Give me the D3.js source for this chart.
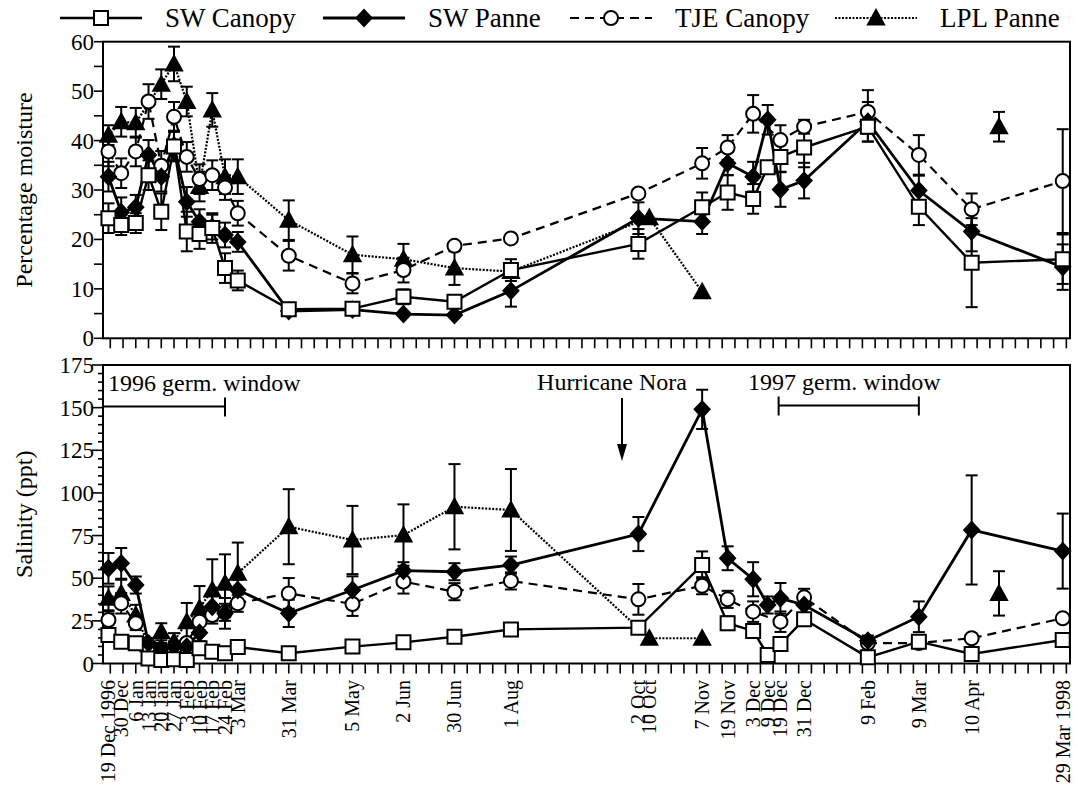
<!DOCTYPE html>
<html>
<head>
<meta charset="utf-8">
<title>Moisture and salinity, 1996-1998</title>
<script src="https://d3js.org/d3.v7.min.js"></script>
<style>
  body { margin: 0; background: #fff; }
  svg { font-family: "Liberation Serif", "Times New Roman", serif; }
</style>
</head>
<body>
<div id="chart"></div>
<script>
// sampling dates (placed as they sit on the weekly axis) and the printed labels
var sampleDates = ["1996-12-22","1996-12-29","1997-01-06","1997-01-13","1997-01-20","1997-01-27",
  "1997-02-03","1997-02-10","1997-02-17","1997-02-24","1997-03-03","1997-03-31","1997-05-05",
  "1997-06-02","1997-06-30","1997-07-31","1997-10-09","1997-10-15","1997-11-13","1997-11-27",
  "1997-12-11","1997-12-19","1997-12-26","1998-01-08","1998-02-12","1998-03-12","1998-04-10",
  "1998-04-25","1998-05-30"];
var tickLabels = ["19 Dec 1996","30 Dec","6 Jan","13 Jan","20 Jan","27 Jan","3 Feb","10 Feb","17 Feb",
  "24 Feb","3 Mar","31 Mar","5 May","2 Jun","30 Jun","1 Aug","2 Oct","10 Oct","7 Nov","19 Nov",
  "3 Dec","9 Dec","19 Dec","31 Dec","9 Feb","9 Mar","10 Apr","","29 Mar 1998"];

var seriesNames = ["SW Canopy", "SW Panne", "TJE Canopy", "LPL Panne"];

// percentage moisture (top panel)
var swCanopyMoist = [24.3,22.9,23.3,33.0,25.6,38.8,21.6,21.1,22.3,14.2,11.7,5.9,6.0,8.4,7.4,13.8,19.1,null,26.5,29.5,28.2,34.6,36.7,38.6,42.8,26.6,15.3,null,16.0];
var swCanopyMoistErr = [3,2,2,3,3.7,3,4,3,3,3,2,null,null,1.5,null,2.2,3,null,3,3.5,3,null,3,4,3,3.7,9,null,5];
var swPanneMoist = [32.7,25.5,26.5,37.1,32.7,39.0,27.6,23.6,22.5,20.9,19.5,5.5,5.8,4.9,4.7,9.6,24.3,null,23.6,35.4,32.7,44.2,30.1,31.9,43.8,29.9,21.6,null,14.4];
var swPanneMoistErr = [3,3,2.5,3,3,3,3,2.5,2.5,2.5,2,null,null,null,null,3.2,3.2,null,2.5,2.4,3,3,3.5,3.6,4,3,4,null,4.6];
var tjeCanopyMoist = [37.8,33.4,37.8,47.9,34.9,44.8,36.7,32.2,33.0,30.5,25.3,16.7,11.1,13.8,18.7,20.2,29.3,null,35.4,38.6,45.4,null,40.1,42.8,45.8,37.1,26.1,null,31.8];
var tjeCanopyMoistErr = [3,3,3,3.5,3,3,3,3,3,2.5,2.5,3,2,2.5,null,null,null,null,3.1,2.5,3.8,null,3,1.4,4.4,4,3.2,null,10.5];
var lplPanneMoist = [41.1,43.8,43.6,null,51.4,55.5,47.9,30.7,46.2,32.7,32.7,23.9,16.9,16.0,14.2,13.5,null,24.4,9.4,null,null,null,null,null,null,null,null,42.8,null];
var lplPanneMoistErr = [2,3,3,null,3,3.5,3,3,3.4,3.5,3.5,4,3.7,3.1,3.4,null,null,null,null,null,null,null,null,null,null,null,null,3,null];

// salinity, ppt (bottom panel)
var swCanopySal = [16.7,12.8,11.8,3.0,2.1,2.5,2.1,8.9,6.9,6.0,9.7,6.0,9.9,12.4,15.7,20.0,21.0,null,57.7,23.6,19.1,5.0,11.4,25.9,3.6,12.8,5.6,null,13.8];
var swCanopySalErr = [null,null,null,null,null,null,null,null,null,null,null,null,null,null,null,null,null,null,8,4,null,null,null,3,null,null,null,null,null];
var swPanneSal = [55.8,58.7,46.0,11.8,9.0,10.0,9.9,18.0,33.3,29.4,43.1,29.4,43.1,54.4,53.8,57.7,75.9,null,149.0,61.7,49.4,34.3,38.2,34.3,13.4,27.4,78.3,null,65.9];
var swPanneSalErr = [9,9,5,3,3,3,4,5,8,9,6,8,8,5,5,5,10,null,11.5,7,10,5,9,5,3,9,32,null,22];
var tjeCanopySal = [25.5,35.3,23.6,10,8,8,12,24.5,28.4,30,35.3,41.1,34.9,48.0,42.1,48.4,37.6,null,45.6,37.6,30.4,null,24.5,38.8,12,12,14.8,null,26.5];
var tjeCanopySalErr = [5,6,4,null,null,null,null,5,5,5,5,9,7,7,5,5,9,null,5,5,6,null,6,5,null,null,null,null,null];
var lplPanneSal = [38.2,41.1,28.4,11,18.6,12.8,24.5,32.4,43.1,47.0,52.9,80.2,72.4,75.3,91.9,90.0,null,14.8,14.8,null,null,null,null,null,null,null,null,41.1,null];
var lplPanneSalErr = [7,8,6,4,5,5,11,13,18,17,18,22,20,18,25,24,null,null,null,null,null,null,null,null,null,null,null,13,null];

var moistTicks = [0,10,20,30,40,50,60];
var salTicks = [0,25,50,75,100,125,150,175];

// annotation dates
var hurricaneDate = "1997-09-30";
var germ1996 = ["1996-12-19","1997-02-24"];
var germ1997 = ["1997-12-25","1998-03-12"];

var maxGapDays = 120; // longer gaps are left unconnected

var parse = d3.timeParse("%Y-%m-%d");
var dates = sampleDates.map(parse);

var width = 1078, height = 791;
var svg = d3.select("#chart").append("svg")
  .attr("width", width)
  .attr("height", height);

var x = d3.scaleTime()
  .domain([parse("1996-12-19"), parse("1998-06-03")])
  .range([103, 1070]);

var yTop = d3.scaleLinear().domain([0, 60]).range([338.3, 41.7]);
var yBot = d3.scaleLinear().domain([0, 175]).range([663.5, 365]);

var styles = {
  "SW Canopy":  { width: 2.4, dash: null,    marker: "square" },
  "SW Panne":   { width: 2.8, dash: null,    marker: "diamond" },
  "TJE Canopy": { width: 2.2, dash: "9,6",   marker: "circle" },
  "LPL Panne":  { width: 2.2, dash: "2,1.5", marker: "triangle" }
};

var shapes = {
  square: "M-7,-7H7V7H-7Z",
  diamond: "M0,-8L7.5,0L0,8L-7.5,0Z",
  triangle: "M0,-8L8,6.5L-8,6.5Z"
};

function drawMarker(g, type, cx, cy) {
  if (type == "circle") {
    g.append("circle").attr("cx", cx).attr("cy", cy).attr("r", 7)
      .attr("fill", "#fff").attr("stroke", "#000").attr("stroke-width", 2);
  } else {
    g.append("path").attr("d", shapes[type])
      .attr("transform", "translate(" + cx + "," + cy + ")")
      .attr("fill", (type == "square") ? "#fff" : "#000")
      .attr("stroke", "#000").attr("stroke-width", 2);
  }
}

function segments(vals) {
  var segs = [], cur = [], prev = null;
  vals.forEach(function (v, i) {
    if (v == null) return;
    var d = dates[i];
    if (prev && (d - prev) / 864e5 > maxGapDays) { segs.push(cur); cur = []; }
    cur.push([d, v]);
    prev = d;
  });
  if (cur.length) segs.push(cur);
  return segs;
}

function drawPanel(y, panelSeries, ticks, minorStep, majorLen, minorLen, label) {
  var g = svg.append("g");
  var x0 = x.range()[0], x1 = x.range()[1];
  var yb = y.range()[0], yt = y.range()[1];

  // frame
  g.append("rect")
    .attr("x", x0).attr("y", yt)
    .attr("width", x1 - x0).attr("height", yb - yt)
    .attr("fill", "none").attr("stroke", "#000").attr("stroke-width", 2);

  // weekly ticks under the panel
  g.selectAll(".wk").data(x.ticks(d3.timeMonday)).enter().append("line")
    .attr("x1", function (d) { return x(d); }).attr("x2", function (d) { return x(d); })
    .attr("y1", yb).attr("y2", yb + 10)
    .attr("stroke", "#000").attr("stroke-width", 1.6);

  // y axis minor ticks
  var minor = d3.range(y.domain()[0], y.domain()[1] + 0.001, minorStep);
  g.selectAll(".mn").data(minor).enter().append("line")
    .attr("x1", x0).attr("x2", function (d) { return x0 - (ticks.indexOf(d) >= 0 ? majorLen : minorLen); })
    .attr("y1", function (d) { return y(d); }).attr("y2", function (d) { return y(d); })
    .attr("stroke", "#000").attr("stroke-width", 1.6);

  g.selectAll(".tl").data(ticks).enter().append("text")
    .attr("x", 94).attr("y", function (d) { return y(d) + 8; })
    .attr("text-anchor", "end")
    .style("font-size", "23px")
    .text(function (d) { return d; });

  g.append("text")
    .attr("transform", "translate(32," + ((yb + yt) / 2) + ") rotate(-90)")
    .attr("text-anchor", "middle")
    .style("font-size", "24px")
    .text(label);

  var line = d3.line()
    .x(function (d) { return x(d[0]); })
    .y(function (d) { return y(d[1]); });

  // lines
  panelSeries.forEach(function (s) {
    var st = styles[s.name];
    segments(s.values).forEach(function (seg) {
      g.append("path").datum(seg)
        .attr("d", line)
        .attr("fill", "none")
        .attr("stroke", "#000")
        .attr("stroke-width", st.width)
        .attr("stroke-dasharray", st.dash);
    });
  });

  // error bars
  panelSeries.forEach(function (s) {
    s.values.forEach(function (v, i) {
      var e = s.errors[i];
      if (v == null || e == null) return;
      var cx = x(dates[i]);
      var lo = y(Math.max(0, v - e)), hi = y(v + e);
      g.append("line").attr("x1", cx).attr("x2", cx).attr("y1", lo).attr("y2", hi)
        .attr("stroke", "#000").attr("stroke-width", 2);
      [lo, hi].forEach(function (yy) {
        g.append("line").attr("x1", cx - 6).attr("x2", cx + 6).attr("y1", yy).attr("y2", yy)
          .attr("stroke", "#000").attr("stroke-width", 2);
      });
    });
  });

  // markers, SW Canopy drawn last so it sits on top
  panelSeries.slice().reverse().forEach(function (s) {
    var st = styles[s.name];
    s.values.forEach(function (v, i) {
      if (v == null) return;
      drawMarker(g, st.marker, x(dates[i]), y(v));
    });
  });

  return g;
}

drawPanel(yTop, [
  { name: "SW Canopy", values: swCanopyMoist, errors: swCanopyMoistErr },
  { name: "SW Panne", values: swPanneMoist, errors: swPanneMoistErr },
  { name: "TJE Canopy", values: tjeCanopyMoist, errors: tjeCanopyMoistErr },
  { name: "LPL Panne", values: lplPanneMoist, errors: lplPanneMoistErr }
], moistTicks, 5, 9, 9, "Percentage moisture");

var bot = drawPanel(yBot, [
  { name: "SW Canopy", values: swCanopySal, errors: swCanopySalErr },
  { name: "SW Panne", values: swPanneSal, errors: swPanneSalErr },
  { name: "TJE Canopy", values: tjeCanopySal, errors: tjeCanopySalErr },
  { name: "LPL Panne", values: lplPanneSal, errors: lplPanneSalErr }
], salTicks, 5, 11, 5, "Salinity (ppt)");

// date labels under bottom panel
bot.selectAll(".xl").data(tickLabels).enter().append("text")
  .attr("transform", function (d, i) {
    return "translate(" + (x(dates[i]) + 7) + ",680) rotate(-90)";
  })
  .attr("text-anchor", "end")
  .style("font-size", "20px")
  .text(function (d) { return d; });

// annotations
function bracket(range, yy) {
  var a = x(parse(range[0])), b = x(parse(range[1]));
  bot.append("line").attr("x1", a).attr("x2", b).attr("y1", yy).attr("y2", yy)
    .attr("stroke", "#000").attr("stroke-width", 2);
  [a, b].forEach(function (xx, k) {
    if (k == 0 && xx <= x.range()[0] + 1) return;
    bot.append("line").attr("x1", xx).attr("x2", xx).attr("y1", yy - 9).attr("y2", yy + 10)
      .attr("stroke", "#000").attr("stroke-width", 2);
  });
}
bracket(germ1996, 406.5);
bracket(germ1997, 405.5);

bot.append("text").attr("x", 108).attr("y", 391)
  .style("font-size", "24px").text("1996 germ. window");
bot.append("text").attr("x", 748).attr("y", 390)
  .style("font-size", "24px").text("1997 germ. window");

var hx = x(parse(hurricaneDate));
bot.append("text").attr("x", hx - 10).attr("y", 390)
  .attr("text-anchor", "middle")
  .style("font-size", "24px").text("Hurricane Nora");
bot.append("line").attr("x1", hx).attr("x2", hx).attr("y1", 398).attr("y2", 450)
  .attr("stroke", "#000").attr("stroke-width", 2);
bot.append("path")
  .attr("d", "M" + (hx - 5) + ",444L" + hx + ",461L" + (hx + 5) + ",444Z")
  .attr("fill", "#000");

// legend
var legendX = [60, 323, 570, 835];
var legend = svg.append("g");
seriesNames.forEach(function (name, i) {
  var st = styles[name];
  var lx = legendX[i];
  legend.append("line").attr("x1", lx).attr("x2", lx + 82).attr("y1", 18).attr("y2", 18)
    .attr("stroke", "#000").attr("stroke-width", st.width)
    .attr("stroke-dasharray", st.dash);
  drawMarker(legend, st.marker, lx + 41, 18);
  legend.append("text").attr("x", lx + 105).attr("y", 27)
    .style("font-size", "27px").text(name);
});
</script>
</body>
</html>
